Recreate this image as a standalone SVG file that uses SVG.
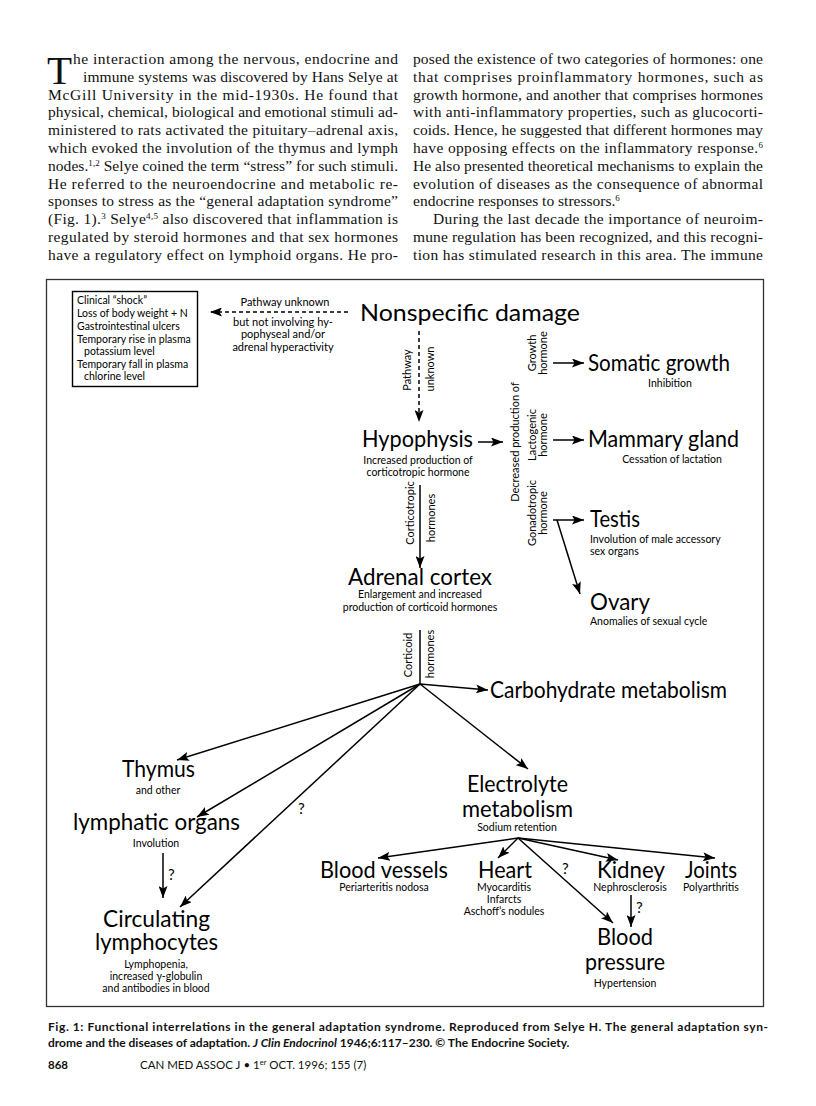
<svg xmlns="http://www.w3.org/2000/svg" width="816" height="1106" viewBox="0 0 816 1106">
<defs>
<marker id="ah" markerUnits="userSpaceOnUse" markerWidth="13" markerHeight="9" refX="12" refY="4.5" orient="auto">
<path d="M0,0 L12,4.5 L0,9 L2.5,4.5 z" fill="#000"/>
</marker>
</defs>
<style>
.body{font-family:"Liberation Serif","DejaVu Serif",serif;font-size:15.5px;fill:#111}
.cap{font-family:"Liberation Serif","DejaVu Serif",serif;font-size:41px;fill:#111}
.sup{font-size:9px}
.big{font-family:Lato,"Open Sans","Liberation Sans",sans-serif;font-size:23.5px;fill:#000}
.sm{font-family:Lato,"Open Sans","Liberation Sans",sans-serif;font-size:10.5px;fill:#000;text-anchor:middle}
.sml{font-family:Lato,"Open Sans","Liberation Sans",sans-serif;font-size:10.5px;fill:#000}
.md{font-family:Lato,"Open Sans","Liberation Sans",sans-serif;font-size:11px;fill:#000;text-anchor:middle}
.q{font-family:Lato,"Open Sans","Liberation Sans",sans-serif;font-size:15px;fill:#000}
.cn{fill:none;stroke:#000;stroke-width:1.5}
.ar{fill:none;stroke:#000;stroke-width:1.5;marker-end:url(#ah)}
.da{fill:none;stroke:#000;stroke-width:1.5;stroke-dasharray:4 3;marker-end:url(#ah)}
.capt{font-family:Lato,"Open Sans","Liberation Sans",sans-serif;font-size:12px;font-weight:bold;fill:#111}
.foot{font-family:Lato,"Open Sans","Liberation Sans",sans-serif;font-size:11.5px;fill:#111}
</style>
<rect width="816" height="1106" fill="#fff"/>

<g id="article-text">
<text class="cap" x="47" y="84">T</text>
<text class="body" x="73" y="64" textLength="325" lengthAdjust="spacing">he interaction among the nervous, endocrine and</text>
<text class="body" x="83" y="82" textLength="315" lengthAdjust="spacing">immune systems was discovered by Hans Selye at</text>
<text class="body" x="48" y="99.6" textLength="350" lengthAdjust="spacing">McGill University in the mid-1930s. He found that</text>
<text class="body" x="48" y="117.4" textLength="350" lengthAdjust="spacing">physical, chemical, biological and emotional stimuli ad-</text>
<text class="body" x="48" y="135.2" textLength="350" lengthAdjust="spacing">ministered to rats activated the pituitary–adrenal axis,</text>
<text class="body" x="48" y="153" textLength="350" lengthAdjust="spacing">which evoked the involution of the thymus and lymph</text>
<text class="body" x="48" y="170.8" textLength="350" lengthAdjust="spacing">nodes.<tspan class="sup" dy="-5">1,2</tspan><tspan dy="5"> Selye coined the term “stress” for such stimuli.</tspan></text>
<text class="body" x="48" y="188.6" textLength="350" lengthAdjust="spacing">He referred to the neuroendocrine and metabolic re-</text>
<text class="body" x="48" y="206.4" textLength="350" lengthAdjust="spacing">sponses to stress as the “general adaptation syndrome”</text>
<text class="body" x="48" y="224.2" textLength="350" lengthAdjust="spacing">(Fig. 1).<tspan class="sup" dy="-5">3</tspan><tspan dy="5"> Selye</tspan><tspan class="sup" dy="-5">4,5</tspan><tspan dy="5"> also discovered that inflammation is</tspan></text>
<text class="body" x="48" y="242" textLength="350" lengthAdjust="spacing">regulated by steroid hormones and that sex hormones</text>
<text class="body" x="48" y="259.8" textLength="350" lengthAdjust="spacing">have a regulatory effect on lymphoid organs. He pro-</text>

<text class="body" x="413" y="64" textLength="350" lengthAdjust="spacing">posed the existence of two categories of hormones: one</text>
<text class="body" x="413" y="82" textLength="350" lengthAdjust="spacing">that comprises proinflammatory hormones, such as</text>
<text class="body" x="413" y="99.6" textLength="350" lengthAdjust="spacing">growth hormone, and another that comprises hormones</text>
<text class="body" x="413" y="117.4" textLength="350" lengthAdjust="spacing">with anti-inflammatory properties, such as glucocorti-</text>
<text class="body" x="413" y="135.2" textLength="350" lengthAdjust="spacing">coids. Hence, he suggested that different hormones may</text>
<text class="body" x="413" y="153" textLength="350" lengthAdjust="spacing">have opposing effects on the inflammatory response.<tspan class="sup" dy="-5">6</tspan></text>
<text class="body" x="413" y="170.8" textLength="350" lengthAdjust="spacing">He also presented theoretical mechanisms to explain the</text>
<text class="body" x="413" y="188.6" textLength="350" lengthAdjust="spacing">evolution of diseases as the consequence of abnormal</text>
<text class="body" x="413" y="206.4">endocrine responses to stressors.<tspan class="sup" dy="-5">6</tspan></text>
<text class="body" x="433" y="224.2" textLength="330" lengthAdjust="spacing">During the last decade the importance of neuroim-</text>
<text class="body" x="413" y="242" textLength="350" lengthAdjust="spacing">mune regulation has been recognized, and this recogni-</text>
<text class="body" x="413" y="259.8" textLength="350" lengthAdjust="spacing">tion has stimulated research in this area. The immune</text>
</g>

<rect id="frame" x="46.5" y="279.5" width="717" height="727" fill="none" stroke="#333" stroke-width="1.3"/>

<g id="connectors">
<line class="da" x1="348" y1="312" x2="210" y2="312"/>
<line class="da" x1="419" y1="331" x2="419" y2="422"/>
<line class="ar" x1="478" y1="442" x2="503" y2="442"/>
<line class="ar" x1="553" y1="363" x2="584" y2="363"/>
<line class="ar" x1="553" y1="440" x2="584" y2="440"/>
<line class="ar" x1="553" y1="520" x2="584" y2="520"/>
<line class="ar" x1="557" y1="520" x2="580" y2="594"/>
<line class="ar" x1="420" y1="485" x2="420" y2="568"/>
<line class="cn" x1="420" y1="630" x2="420" y2="684"/>
<line class="ar" x1="420" y1="684" x2="488" y2="690"/>
<line class="ar" x1="420" y1="684" x2="528" y2="769"/>
<line class="ar" x1="420" y1="684" x2="177" y2="760"/>
<line class="ar" x1="420" y1="684" x2="197" y2="817"/>
<line class="ar" x1="420" y1="684" x2="180" y2="907"/>
<line class="ar" x1="163" y1="853" x2="163" y2="898"/>
<line class="ar" x1="518" y1="838" x2="378" y2="858"/>
<line class="ar" x1="518" y1="838" x2="498" y2="858"/>
<line class="ar" x1="518" y1="838" x2="613" y2="923"/>
<line class="ar" x1="518" y1="838" x2="618" y2="860"/>
<line class="ar" x1="518" y1="838" x2="715" y2="858"/>
<line class="ar" x1="631" y1="895" x2="631" y2="927"/>
<text class="md" x="285" y="306">Pathway unknown</text>
<text class="md" x="283" y="326">but not involving hy-</text>
<text class="md" x="283" y="338">pophyseal and/or</text>
<text class="md" x="283" y="351">adrenal hyperactivity</text>
<text class="md" transform="translate(411,370) rotate(-90)">Pathway</text>
<text class="md" transform="translate(434,369) rotate(-90)">unknown</text>
<text class="md" transform="translate(519,442) rotate(-90)">Decreased production of</text>
<text class="md" transform="translate(536,353) rotate(-90)">Growth</text>
<text class="md" transform="translate(547,353) rotate(-90)">hormone</text>
<text class="md" transform="translate(536,435) rotate(-90)">Lactogenic</text>
<text class="md" transform="translate(547,435) rotate(-90)">hormone</text>
<text class="md" transform="translate(536,513) rotate(-90)">Gonadotropic</text>
<text class="md" transform="translate(547,513) rotate(-90)">hormone</text>
<text class="md" transform="translate(414,513) rotate(-90)">Corticotropic</text>
<text class="md" transform="translate(435,518) rotate(-90)">hormones</text>
<text class="md" transform="translate(412,655) rotate(-90)">Corticoid</text>
<text class="md" transform="translate(434,654) rotate(-90)">hormones</text>
<text class="q" x="298" y="814">?</text>
<text class="q" x="168" y="880">?</text>
<text class="q" x="562" y="874">?</text>
<text class="q" x="636" y="913">?</text>
</g>

<g id="n-symptoms">
<rect x="72.5" y="291.5" width="125" height="95" fill="none" stroke="#000" stroke-width="1.4"/>
<text class="sml" x="77" y="304">Clinical “shock”</text>
<text class="sml" x="77" y="317">Loss of body weight + N</text>
<text class="sml" x="77" y="330">Gastrointestinal ulcers</text>
<text class="sml" x="77" y="343">Temporary rise in plasma</text>
<text class="sml" x="84" y="355">potassium level</text>
<text class="sml" x="77" y="368">Temporary fall in plasma</text>
<text class="sml" x="84" y="380">chlorine level</text>
</g>
<g id="n-nonspecific"><text class="big" x="360" y="321" textLength="220" lengthAdjust="spacingAndGlyphs">Nonspecific damage</text></g>
<g id="n-hypophysis">
<text class="big" x="362" y="447" textLength="111" lengthAdjust="spacingAndGlyphs">Hypophysis</text>
<text class="sm" x="418" y="464">Increased production of</text>
<text class="sm" x="418" y="476">corticotropic hormone</text>
</g>
<g id="n-somatic">
<text class="big" x="588" y="371" textLength="142" lengthAdjust="spacingAndGlyphs">Somatic growth</text>
<text class="sm" x="670" y="387">Inhibition</text>
</g>
<g id="n-mammary">
<text class="big" x="588" y="447" textLength="151" lengthAdjust="spacingAndGlyphs">Mammary gland</text>
<text class="sm" x="672" y="463">Cessation of lactation</text>
</g>
<g id="n-testis">
<text class="big" x="590" y="527" textLength="50" lengthAdjust="spacingAndGlyphs">Testis</text>
<text class="sml" x="590" y="543">Involution of male accessory</text>
<text class="sml" x="590" y="555">sex organs</text>
</g>
<g id="n-ovary">
<text class="big" x="590" y="610" textLength="60" lengthAdjust="spacingAndGlyphs">Ovary</text>
<text class="sml" x="590" y="625">Anomalies of sexual cycle</text>
</g>
<g id="n-adrenal">
<text class="big" x="348" y="585" textLength="144" lengthAdjust="spacingAndGlyphs">Adrenal cortex</text>
<text class="sm" x="420" y="598">Enlargement and increased</text>
<text class="sm" x="420" y="611">production of corticoid hormones</text>
</g>
<g id="n-carbohydrate"><text class="big" x="490" y="698" textLength="237" lengthAdjust="spacingAndGlyphs">Carbohydrate metabolism</text></g>
<g id="n-thymus">
<text class="big" x="122" y="777" textLength="73" lengthAdjust="spacingAndGlyphs">Thymus</text>
<text class="sm" x="158" y="794">and other</text>
</g>
<g id="n-lymphatic">
<text class="big" x="73" y="830" textLength="167" lengthAdjust="spacingAndGlyphs">lymphatic organs</text>
<text class="sm" x="156" y="847">Involution</text>
</g>
<g id="n-lymphocytes">
<text class="big" x="103" y="927" textLength="107" lengthAdjust="spacingAndGlyphs">Circulating</text>
<text class="big" x="95" y="950" textLength="123" lengthAdjust="spacingAndGlyphs">lymphocytes</text>
<text class="sm" x="156" y="968">Lymphopenia,</text>
<text class="sm" x="156" y="980">increased γ-globulin</text>
<text class="sm" x="156" y="992">and antibodies in blood</text>
</g>
<g id="n-electrolyte">
<text class="big" x="467" y="792" textLength="101" lengthAdjust="spacingAndGlyphs">Electrolyte</text>
<text class="big" x="462" y="817" textLength="111" lengthAdjust="spacingAndGlyphs">metabolism</text>
<text class="sm" x="517" y="831">Sodium retention</text>
</g>
<g id="n-vessels">
<text class="big" x="320" y="878" textLength="128" lengthAdjust="spacingAndGlyphs">Blood vessels</text>
<text class="sm" x="384" y="891">Periarteritis nodosa</text>
</g>
<g id="n-heart">
<text class="big" x="478" y="878" textLength="54" lengthAdjust="spacingAndGlyphs">Heart</text>
<text class="sm" x="504" y="891">Myocarditis</text>
<text class="sm" x="504" y="903">Infarcts</text>
<text class="sm" x="504" y="915">Aschoff’s nodules</text>
</g>
<g id="n-kidney">
<text class="big" x="597" y="878" textLength="68" lengthAdjust="spacingAndGlyphs">Kidney</text>
<text class="sm" x="630" y="891">Nephrosclerosis</text>
</g>
<g id="n-joints">
<text class="big" x="685" y="878" textLength="52" lengthAdjust="spacingAndGlyphs">Joints</text>
<text class="sm" x="711" y="891">Polyarthritis</text>
</g>
<g id="n-bloodpressure">
<text class="big" x="597" y="945" textLength="56" lengthAdjust="spacingAndGlyphs">Blood</text>
<text class="big" x="585" y="970" textLength="80" lengthAdjust="spacingAndGlyphs">pressure</text>
<text class="sm" x="625" y="987">Hypertension</text>
</g>

<g id="caption">
<text class="capt" x="48" y="1031" textLength="720" lengthAdjust="spacing">Fig. 1: Functional interrelations in the general adaptation syndrome. Reproduced from Selye H. The general adaptation syn-</text>
<text class="capt" x="48" y="1047">drome and the diseases of adaptation. <tspan font-style="italic">J Clin Endocrinol</tspan> 1946;6:117–230. © The Endocrine Society.</text>
</g>
<g id="footer">
<text class="foot" x="48" y="1069" font-weight="bold">868</text>
<text class="foot" x="140" y="1069">CAN MED ASSOC J • 1<tspan font-size="7.5" dy="-4">er</tspan><tspan dy="4"> OCT. 1996; 155 (7)</tspan></text>
</g>
</svg>
